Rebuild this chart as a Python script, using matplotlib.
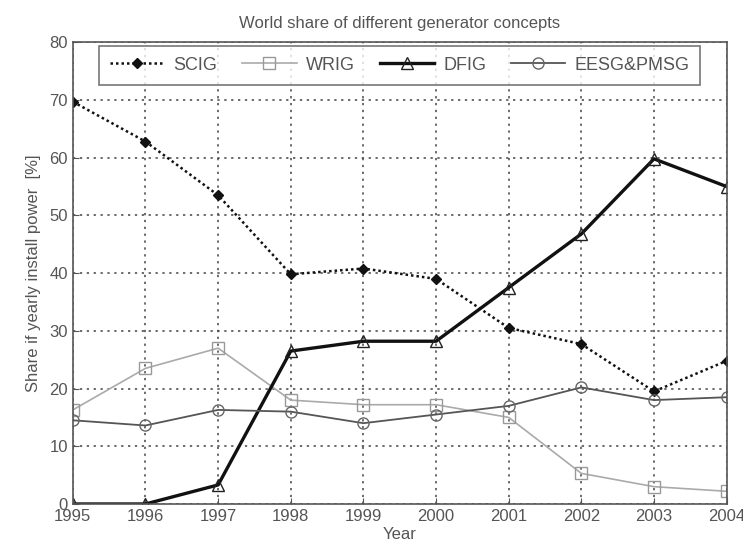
import matplotlib
matplotlib.use("Agg")
import matplotlib.pyplot as plt

plt.rcParams['font.family'] = ['Liberation Sans Narrow', 'Liberation Sans', 'DejaVu Sans']

years = [1995, 1996, 1997, 1998, 1999, 2000, 2001, 2002, 2003, 2004]
scig = [69.7, 62.8, 53.5, 39.8, 40.8, 39.0, 30.5, 27.7, 19.5, 24.8]
wrig = [16.3, 23.5, 27.0, 18.0, 17.2, 17.2, 15.0, 5.3, 3.0, 2.2]
dfig = [0.0, 0.0, 3.3, 26.5, 28.2, 28.2, 37.5, 46.8, 59.8, 55.0]
eesg = [14.5, 13.6, 16.3, 16.0, 14.0, 15.5, 17.0, 20.2, 18.0, 18.5]

text_col = '#555555'

fig = plt.figure(figsize=(7.43, 5.49), dpi=100)
ax = fig.add_axes([0.098, 0.082, 0.880, 0.841])

ax.plot(years, scig, color='#111111', linestyle=(0, (1, 1.2)), linewidth=1.8,
        marker='D', markersize=5, label='SCIG')
ax.plot(years, wrig, color='#aaaaaa', linewidth=1.2,
        marker='s', markersize=8, markerfacecolor='none', markeredgecolor='#999999',
        label='WRIG')
ax.plot(years, dfig, color='#111111', linewidth=2.4,
        marker='^', markersize=9, markerfacecolor='none', markeredgecolor='#222222',
        label='DFIG')
ax.plot(years, eesg, color='#555555', linewidth=1.3,
        marker='o', markersize=8, markerfacecolor='none', markeredgecolor='#666666',
        label='EESG&PMSG')

ax.set_xlim(1995, 2004)
ax.set_ylim(0, 80)
ax.set_xticks(years)
ax.set_yticks(range(0, 81, 10))
ax.grid(True, color='#444444', linestyle=(0, (1.5, 3)), linewidth=1.1)
ax.tick_params(colors=text_col, labelsize=12, direction='in', length=4)
for s in ax.spines.values():
    s.set_color('#555555')
    s.set_linewidth(1.2)

ax.set_title('World share of different generator concepts', color=text_col,
             fontsize=12, pad=10)
ax.set_xlabel('Year', color=text_col, fontsize=12, labelpad=2)
ax.set_ylabel('Share if yearly install power  [%]', color=text_col, fontsize=12,
              labelpad=6)

leg = ax.legend(loc='upper center', ncol=4, fontsize=13, frameon=True,
                fancybox=False, edgecolor='#555555', handlelength=3,
                columnspacing=1.4, handletextpad=0.5,
                bbox_to_anchor=(0.5, 1.0), borderpad=0.6, borderaxespad=0.2)
leg.get_frame().set_linewidth(1.2)
for t in leg.get_texts():
    t.set_color(text_col)

fig.savefig('out.png', dpi=100)
